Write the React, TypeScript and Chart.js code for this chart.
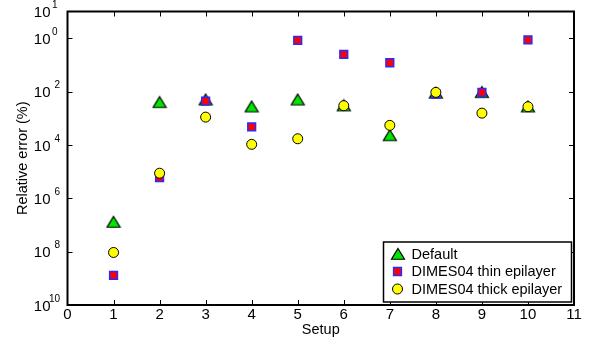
import React, { useEffect, useRef } from 'react';
import { Chart, registerables } from 'chart.js';

Chart.register(...registerables);

const setups = [1, 2, 3, 4, 5, 6, 7, 8, 9, 10];
const defaultErr = [1.3e-7, 4.0e-3, 5.0e-3, 2.75e-3, 5.0e-3, 3.0e-3, 2.3e-4, 9.0e-3, 9.5e-3, 2.75e-3];
const thinErr = [1.3e-9, 5.9e-6, 4.4e-3, 4.7e-4, 0.82, 0.245, 0.12, 8.0e-3, 9.3e-3, 0.87];
const thickErr = [9.3e-9, 8.7e-6, 1.1e-3, 1.05e-4, 1.7e-4, 2.95e-3, 5.4e-4, 9.3e-3, 1.55e-3, 2.7e-3];

const xTicks = [0, 1, 2, 3, 4, 5, 6, 7, 8, 9, 10, 11];
const yTickValues = [1e1, 1e0, 1e-2, 1e-4, 1e-6, 1e-8, 1e-10];
const yTickExponents = ['1', '0', '2', '4', '6', '8', '10'];

const xTitle = 'Setup';
const yTitle = 'Relative error (%)';
const seriesLabels = ['Default', 'DIMES04 thin epilayer', 'DIMES04 thick epilayer'];

const FONT = '"Liberation Sans", Arial, sans-serif';

function makeTriangle(): HTMLCanvasElement {
  const c = document.createElement('canvas');
  c.width = 16;
  c.height = 14;
  const g = c.getContext('2d')!;
  g.beginPath();
  g.moveTo(8, 1.5);
  g.lineTo(14.5, 12.25);
  g.lineTo(1.5, 12.25);
  g.closePath();
  g.fillStyle = '#00e600';
  g.fill();
  g.strokeStyle = '#000';
  g.lineWidth = 1.2;
  g.stroke();
  return c;
}

function drawMarker(ctx: CanvasRenderingContext2D, style: any, x: number, y: number, r: number) {
  if (typeof style !== 'string') {
    ctx.drawImage(style, Math.round(x - style.width / 2), Math.round(y - style.height / 2));
    return;
  }
  ctx.beginPath();
  if (style === 'rect') {
    const s = Math.SQRT1_2 * r;
    ctx.rect(x - s, y - s, 2 * s, 2 * s);
  } else {
    ctx.arc(x, y, r, 0, Math.PI * 2);
  }
  ctx.fill();
  ctx.stroke();
}

const matlabPlugin = {
  id: 'matlabAxes',
  beforeDatasetsDraw(chart: any) {
    const { ctx, chartArea } = chart;
    const xs = chart.scales.x;
    const ys = chart.scales.y;
    const { left, right, top, bottom } = chartArea;
    ctx.save();
    ctx.strokeStyle = '#000';
    ctx.lineWidth = 1;
    const tl = 5;
    xTicks.forEach((v) => {
      if (v <= xs.min || v >= xs.max) return;
      const px = Math.round(xs.getPixelForValue(v)) + 0.5;
      ctx.beginPath();
      ctx.moveTo(px, bottom);
      ctx.lineTo(px, bottom - tl);
      ctx.moveTo(px, top);
      ctx.lineTo(px, top + tl);
      ctx.stroke();
    });
    yTickValues.forEach((v) => {
      if (v <= ys.min || v >= ys.max) return;
      const py = Math.round(ys.getPixelForValue(v)) + 0.5;
      ctx.beginPath();
      ctx.moveTo(left, py);
      ctx.lineTo(left + tl, py);
      ctx.moveTo(right, py);
      ctx.lineTo(right - tl, py);
      ctx.stroke();
    });
    ctx.lineWidth = 2;
    ctx.strokeRect(left, top, right - left, bottom - top);

    ctx.fillStyle = '#000';
    ctx.font = `15px ${FONT}`;
    ctx.textAlign = 'center';
    ctx.textBaseline = 'middle';
    xTicks.forEach((v) => {
      ctx.fillText(String(v), xs.getPixelForValue(v), bottom + 10);
    });
    yTickValues.forEach((v, i) => {
      const py = ys.getPixelForValue(v);
      ctx.font = `15px ${FONT}`;
      ctx.textAlign = 'right';
      ctx.textBaseline = 'middle';
      ctx.fillText('10', left - 17, py + 1.5);
      ctx.font = `10px ${FONT}`;
      if (v < 1) {
        ctx.textAlign = 'right';
        ctx.fillText(yTickExponents[i], left - 7.5, py - 6);
      } else {
        ctx.textAlign = 'left';
        ctx.fillText(yTickExponents[i], left - 15.5, py - 6);
      }
    });
    ctx.font = `14.5px ${FONT}`;
    ctx.textAlign = 'center';
    ctx.textBaseline = 'alphabetic';
    ctx.fillText(xTitle, (left + right) / 2, bottom + 29);
    ctx.save();
    ctx.translate(27, (top + bottom) / 2);
    ctx.rotate(-Math.PI / 2);
    ctx.fillText(yTitle, 0, 0);
    ctx.restore();
    ctx.restore();
  },
  afterDatasetsDraw(chart: any) {
    const { ctx, chartArea } = chart;
    const bx1 = chartArea.right - 2.5;
    const by2 = chartArea.bottom - 3;
    const bx0 = bx1 - 188;
    const by0 = by2 - 60;
    ctx.save();
    ctx.fillStyle = '#fff';
    ctx.fillRect(bx0, by0, bx1 - bx0, by2 - by0);
    ctx.strokeStyle = '#000';
    ctx.lineWidth = 1.5;
    ctx.strokeRect(bx0, by0, bx1 - bx0, by2 - by0);
    chart.data.datasets.forEach((ds: any, i: number) => {
      const cy = by0 + 12 + i * 17.5;
      const cx = bx0 + 14;
      ctx.fillStyle = ds.backgroundColor;
      ctx.strokeStyle = ds.borderColor;
      ctx.lineWidth = ds.borderWidth;
      drawMarker(ctx, ds.pointStyle, cx, cy, ds.pointRadius);
      ctx.fillStyle = '#000';
      ctx.font = `14.5px ${FONT}`;
      ctx.textAlign = 'left';
      ctx.textBaseline = 'middle';
      ctx.fillText(seriesLabels[i], bx0 + 28, cy + 0.5);
    });
    ctx.restore();
  },
};

export default function App() {
  const ref = useRef<HTMLCanvasElement | null>(null);
  useEffect(() => {
    document.body.style.margin = '0';
    if (!ref.current) return;
    const tri = makeTriangle();
    const chart = new Chart(ref.current, {
      type: 'scatter',
      data: {
        datasets: [
          {
            label: seriesLabels[0],
            data: setups.map((x, i) => ({ x, y: defaultErr[i] })),
            pointStyle: tri,
            pointRadius: 7,
            pointHoverRadius: 7,
            backgroundColor: '#00e600',
            borderColor: '#000000',
            borderWidth: 1,
            order: 3,
          },
          {
            label: seriesLabels[1],
            data: setups.map((x, i) => ({ x, y: thinErr[i] })),
            pointStyle: 'rect',
            pointRadius: 5.5,
            pointHoverRadius: 5.5,
            backgroundColor: '#ff0000',
            borderColor: '#2a2aff',
            borderWidth: 1.5,
            order: 2,
          },
          {
            label: seriesLabels[2],
            data: setups.map((x, i) => ({ x, y: thickErr[i] })),
            pointStyle: 'circle',
            pointRadius: 5,
            pointHoverRadius: 5,
            backgroundColor: '#ffff00',
            borderColor: '#000000',
            borderWidth: 1,
            order: 1,
          },
        ] as any,
      },
      options: {
        animation: false,
        responsive: false,
        devicePixelRatio: 1,
        layout: { padding: { top: 11.5, right: 16, left: 0, bottom: 0 } },
        plugins: { legend: { display: false }, tooltip: { enabled: false } },
        scales: {
          x: {
            type: 'linear',
            min: 0,
            max: 11,
            ticks: { display: false },
            grid: { display: false },
            border: { display: false },
            afterFit: (s: any) => {
              s.height = 35;
            },
          },
          y: {
            type: 'logarithmic',
            min: 1e-10,
            max: 10,
            ticks: { display: false },
            grid: { display: false },
            border: { display: false },
            afterFit: (s: any) => {
              s.width = 67.5;
            },
          },
        },
      } as any,
      plugins: [matlabPlugin],
    });
    return () => chart.destroy();
  }, []);
  return (
    <div style={{ width: 590, height: 340 }}>
      <canvas ref={ref} width={590} height={340} style={{ display: 'block' }} />
    </div>
  );
}
